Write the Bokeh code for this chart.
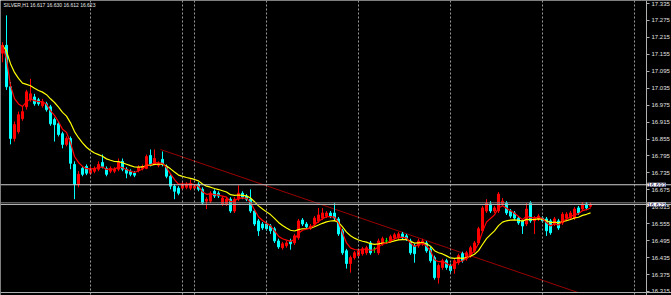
from bokeh.plotting import figure
from bokeh.models import Range1d, FixedTicker, Span, Label, ColumnDataSource
from bokeh.embed import file_html
from bokeh.resources import INLINE
import pandas as pd

title_text = "SILVER,H1  16.617 16.630 16.612 16.623"

opens = [17.159, 17.187, 17.040, 16.857, 16.881, 16.927, 16.969, 16.994, 17.004, 16.994,
         16.973, 16.980, 16.969, 16.924, 16.909, 16.874, 16.836, 16.857, 16.765, 16.695,
         16.751, 16.758, 16.734, 16.741, 16.748, 16.772, 16.751, 16.741, 16.741, 16.748,
         16.776, 16.748, 16.741, 16.734, 16.744, 16.751, 16.751, 16.797, 16.765, 16.762,
         16.783, 16.758, 16.723, 16.688, 16.681, 16.681, 16.684, 16.681, 16.681, 16.695,
         16.677, 16.635, 16.635, 16.670, 16.663, 16.625, 16.625, 16.642, 16.600, 16.642,
         16.663, 16.653, 16.642, 16.600, 16.565, 16.554, 16.554, 16.547, 16.537, 16.494,
         16.470, 16.477, 16.494, 16.487, 16.505, 16.568, 16.554, 16.540, 16.554, 16.565,
         16.575, 16.582, 16.593, 16.593, 16.572, 16.530, 16.459, 16.414, 16.435, 16.442,
         16.449, 16.452, 16.487, 16.466, 16.452, 16.484, 16.494, 16.494, 16.505, 16.505,
         16.519, 16.512, 16.494, 16.477, 16.477, 16.484, 16.487, 16.466, 16.435, 16.364,
         16.400, 16.424, 16.407, 16.396, 16.417, 16.449, 16.431, 16.442, 16.459, 16.487,
         16.530, 16.600, 16.625, 16.600, 16.600, 16.625, 16.628, 16.600, 16.593, 16.575,
         16.565, 16.554, 16.628, 16.565, 16.572, 16.575, 16.572, 16.565, 16.554, 16.565,
         16.558, 16.575, 16.575, 16.575, 16.611, 16.607, 16.625, 16.617]
highs = [17.198, 17.293, 17.057, 16.917, 16.952, 16.969, 17.029, 17.068, 17.015, 17.001,
         16.997, 16.987, 16.976, 16.931, 16.917, 16.881, 16.864, 16.864, 16.776, 16.741,
         16.758, 16.765, 16.758, 16.758, 16.776, 16.800, 16.758, 16.758, 16.755, 16.786,
         16.786, 16.755, 16.748, 16.741, 16.762, 16.765, 16.800, 16.818, 16.818, 16.776,
         16.811, 16.765, 16.730, 16.695, 16.688, 16.702, 16.702, 16.712, 16.695, 16.702,
         16.684, 16.649, 16.670, 16.677, 16.670, 16.653, 16.649, 16.649, 16.649, 16.691,
         16.670, 16.660, 16.677, 16.607, 16.572, 16.561, 16.561, 16.554, 16.544, 16.502,
         16.491, 16.494, 16.502, 16.519, 16.572, 16.575, 16.561, 16.554, 16.582, 16.611,
         16.611, 16.600, 16.600, 16.628, 16.579, 16.537, 16.466, 16.442, 16.459, 16.466,
         16.473, 16.477, 16.494, 16.473, 16.502, 16.509, 16.505, 16.516, 16.523, 16.526,
         16.526, 16.519, 16.502, 16.484, 16.502, 16.502, 16.494, 16.473, 16.442, 16.414,
         16.431, 16.431, 16.414, 16.431, 16.449, 16.456, 16.459, 16.477, 16.494, 16.544,
         16.618, 16.642, 16.635, 16.618, 16.667, 16.646, 16.635, 16.607, 16.600, 16.582,
         16.572, 16.628, 16.635, 16.582, 16.589, 16.582, 16.579, 16.572, 16.579, 16.572,
         16.596, 16.596, 16.600, 16.614, 16.618, 16.632, 16.632, 16.630]
lows = [17.127, 17.029, 16.836, 16.846, 16.874, 16.920, 16.959, 16.987, 16.973, 16.973,
        16.966, 16.952, 16.902, 16.846, 16.864, 16.822, 16.829, 16.748, 16.642, 16.684,
        16.723, 16.727, 16.727, 16.734, 16.741, 16.751, 16.723, 16.734, 16.734, 16.741,
        16.741, 16.716, 16.723, 16.720, 16.737, 16.744, 16.748, 16.758, 16.762, 16.755,
        16.758, 16.716, 16.677, 16.642, 16.656, 16.674, 16.677, 16.674, 16.674, 16.670,
        16.621, 16.607, 16.628, 16.646, 16.646, 16.618, 16.618, 16.593, 16.593, 16.635,
        16.642, 16.635, 16.593, 16.547, 16.512, 16.533, 16.530, 16.519, 16.487, 16.466,
        16.463, 16.470, 16.463, 16.480, 16.498, 16.547, 16.537, 16.533, 16.547, 16.558,
        16.568, 16.575, 16.575, 16.568, 16.512, 16.445, 16.396, 16.382, 16.428, 16.435,
        16.442, 16.445, 16.445, 16.452, 16.445, 16.477, 16.484, 16.487, 16.498, 16.498,
        16.498, 16.494, 16.445, 16.417, 16.470, 16.477, 16.452, 16.417, 16.357, 16.343,
        16.392, 16.392, 16.378, 16.378, 16.410, 16.417, 16.424, 16.435, 16.452, 16.480,
        16.523, 16.593, 16.593, 16.593, 16.593, 16.618, 16.586, 16.575, 16.568, 16.551,
        16.519, 16.547, 16.558, 16.519, 16.565, 16.558, 16.512, 16.516, 16.547, 16.533,
        16.551, 16.568, 16.568, 16.568, 16.586, 16.600, 16.603, 16.612]
closes = [17.187, 17.040, 16.857, 16.906, 16.941, 16.952, 17.022, 17.015, 16.980, 16.980,
          16.987, 16.959, 16.909, 16.906, 16.871, 16.836, 16.857, 16.769, 16.695, 16.730,
          16.730, 16.734, 16.748, 16.751, 16.765, 16.758, 16.730, 16.751, 16.748, 16.772,
          16.748, 16.734, 16.730, 16.727, 16.755, 16.758, 16.793, 16.765, 16.786, 16.769,
          16.765, 16.723, 16.688, 16.670, 16.663, 16.695, 16.695, 16.698, 16.688, 16.677,
          16.628, 16.642, 16.663, 16.653, 16.653, 16.646, 16.642, 16.600, 16.642, 16.663,
          16.649, 16.642, 16.600, 16.554, 16.530, 16.540, 16.537, 16.530, 16.494, 16.473,
          16.484, 16.487, 16.484, 16.512, 16.565, 16.554, 16.544, 16.547, 16.575, 16.586,
          16.593, 16.593, 16.582, 16.575, 16.519, 16.452, 16.414, 16.435, 16.452, 16.459,
          16.466, 16.470, 16.452, 16.466, 16.494, 16.502, 16.494, 16.509, 16.516, 16.519,
          16.505, 16.502, 16.452, 16.449, 16.494, 16.494, 16.459, 16.424, 16.364, 16.407,
          16.424, 16.400, 16.389, 16.424, 16.442, 16.424, 16.452, 16.470, 16.487, 16.537,
          16.611, 16.628, 16.600, 16.611, 16.660, 16.635, 16.593, 16.582, 16.575, 16.558,
          16.547, 16.607, 16.565, 16.575, 16.582, 16.565, 16.530, 16.523, 16.572, 16.540,
          16.589, 16.589, 16.593, 16.607, 16.593, 16.625, 16.611, 16.623]

ytick_values = [17.335, 17.275, 17.215, 17.155, 17.095, 17.035, 16.975, 16.915, 16.855,
                16.795, 16.735, 16.675, 16.615, 16.555, 16.495, 16.435, 16.375, 16.315]
ytick_labels = ["17.335", "17.275", "17.215", "17.155", "17.095", "17.035", "16.975",
                "16.915", "16.855", "16.795", "16.735", "16.675", "16.615", "16.555",
                "16.495", "16.435", "16.375", "16.315"]
separator_index = [22, 45, 48, 66, 89, 112, 135, 158]
level_prices = [16.693, 16.629, 16.623]
level_labels = ["16.693", "", "16.623"]
trend_index = [39.5, 143.75]
trend_prices = [16.818, 16.312]

n = len(closes)
idx = list(range(n))
colors = []
for o, c in zip(opens, closes):
    if c > o:
        colors.append("#ff0000")
    elif c < o:
        colors.append("#00ffff")
    else:
        colors.append("#00ff00")

src = ColumnDataSource(dict(x=idx, o=opens, h=highs, l=lows, c=closes,
                            top=[max(o, c) for o, c in zip(opens, closes)],
                            bot=[min(o, c) for o, c in zip(opens, closes)],
                            col=colors))

cs = pd.Series(closes)
fast_ma = cs.ewm(span=5, adjust=False).mean().tolist()
slow_ma = cs.ewm(span=13, adjust=False).mean().tolist()

X_END = 167.25      # frame spans the whole window width
AXIS_X = 161.0      # price scale pinned near the right edge of the chart area
Y_START = 16.3008
Y_END = 17.3456
p = figure(width=671, height=295, output_backend="svg", toolbar_location=None,
           x_range=Range1d(-0.5, X_END), y_range=Range1d(Y_START, Y_END),
           y_axis_location="right",
           background_fill_color="black", border_fill_color="black",
           min_border_left=0, min_border_top=0, min_border_right=0, min_border_bottom=0)
p.outline_line_color = None
p.grid.visible = False
p.xaxis.visible = False

# right price axis
p.yaxis.fixed_location = AXIS_X
p.yaxis.ticker = FixedTicker(ticks=ytick_values)
p.yaxis.major_label_overrides = {v: s for v, s in zip(ytick_values, ytick_labels)}
p.yaxis.major_label_text_font = "Liberation Sans"
p.yaxis.major_label_text_font_size = "6px"
p.yaxis.major_label_text_color = "#e0e0e0"
p.yaxis.major_label_standoff = 2
p.yaxis.major_tick_out = 3
p.yaxis.major_tick_in = 0
p.yaxis.minor_tick_out = 0
p.yaxis.minor_tick_in = 0
p.yaxis.axis_line_color = "#b0b0b0"
p.yaxis.major_tick_line_color = "#b0b0b0"

# bottom frame line
p.add_layout(Span(location=16.3114, dimension="width", line_color="#b0b0b0", line_width=1))

# period separators
for s in separator_index:
    p.add_layout(Span(location=s, dimension="height", line_color="#9a9a9a",
                      line_dash="2 2", line_width=1))

# horizontal levels
p.add_layout(Span(location=level_prices[0], dimension="width", line_color="#d0d0d0", line_width=1))
p.add_layout(Span(location=level_prices[1], dimension="width", line_color="#8a8a8a", line_width=1))
p.add_layout(Span(location=level_prices[2], dimension="width", line_color="#b4b4b4", line_width=1))

# trendline
p.line(trend_index, trend_prices, line_color="#990000", line_width=1)

# candles
p.segment(x0="x", y0="h", x1="x", y1="l", line_color="col", line_width=1, source=src)
p.vbar(x="x", top="top", bottom="bot", width=0.5, fill_color="col", line_color="col",
       line_width=1, source=src)

# moving averages
p.line(idx, slow_ma, line_color="#ffff00", line_width=1.2)
p.line(idx, fast_ma, line_color="#ff0000", line_width=1.2)

# title
p.add_layout(Label(x=3, x_units="screen", y=17.331, text=title_text,
                   text_font="Liberation Sans", text_font_size="5px",
                   text_color="#e8e8e8", text_baseline="middle"))

# price boxes on the axis
for lp, lt in zip(level_prices, level_labels):
    if lt:
        p.add_layout(Label(x=AXIS_X, y=lp, x_offset=1, text=lt, level="overlay",
                           text_font="Liberation Sans", text_font_size="6px",
                           text_color="#000040", text_baseline="middle",
                           background_fill_color="white"))

open("out.html", "w").write(file_html(p, INLINE))
